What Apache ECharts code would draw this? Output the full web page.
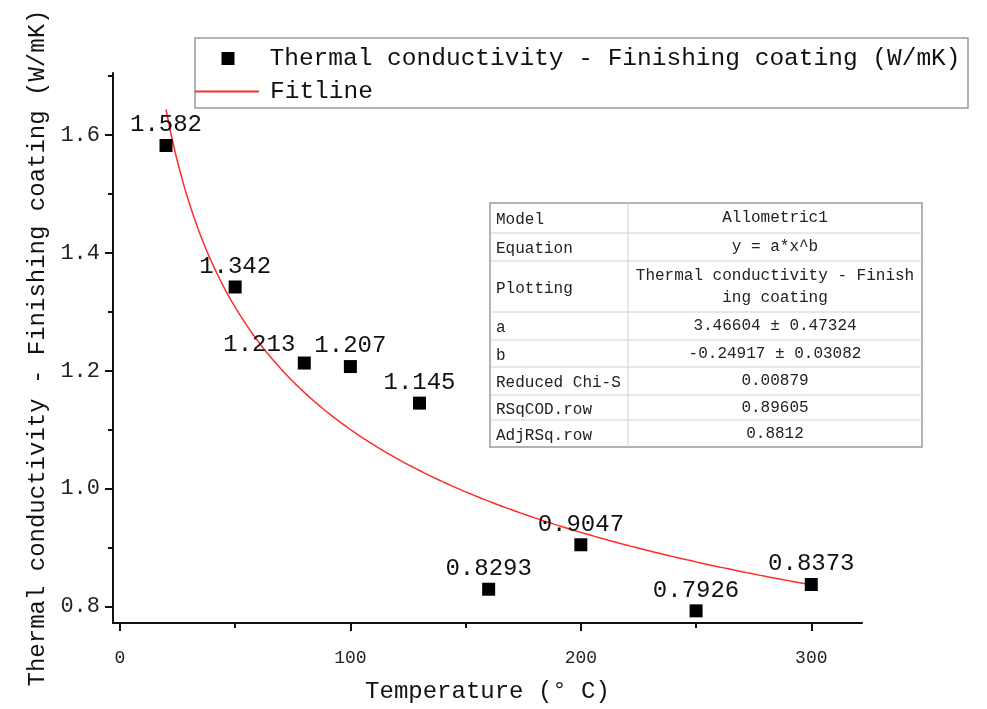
<!DOCTYPE html>
<html>
<head>
<meta charset="utf-8">
<script src="https://cdn.jsdelivr.net/npm/echarts@6/dist/echarts.min.js"></script>
<style>
  html, body { margin: 0; padding: 0; background: #fff; }
  #chart { width: 987px; height: 709px; }
</style>
</head>
<body>
<div id="chart"></div>
<script>
// Measured thermal conductivity of the finishing coating vs temperature
const temperature = [20, 50, 80, 100, 130, 160, 200, 250, 300];
const conductivity = [1.582, 1.342, 1.213, 1.207, 1.145, 0.8293, 0.9047, 0.7926, 0.8373];

// Allometric1 fit parameters (y = a*x^b) as reported in the fit table
const fitA = 3.46604;
const fitB = -0.24917;

// Axis ticks
const xMajorTicks = [0, 100, 200, 300];
const xMinorTicks = [50, 150, 250];
const yMajorTicks = [0.8, 1.0, 1.2, 1.4, 1.6];
const yMinorTicks = [0.9, 1.1, 1.3, 1.5, 1.7];

// Fit report table
const tableNames = ['Model', 'Equation', 'Plotting', 'a', 'b', 'Reduced Chi-S', 'RSqCOD.row', 'AdjRSq.row'];
const tableValues = ['Allometric1', 'y = a*x^b', 'Thermal conductivity - Finish\ning coating',
  '3.46604 \u00b1 0.47324', '-0.24917 \u00b1 0.03082', '0.00879', '0.89605', '0.8812'];

const seriesNames = ['Thermal conductivity - Finishing coating (W/mK)', 'Fitline'];

const FONT = '"Liberation Mono", "DejaVu Sans Mono", monospace';

// Fitted curve over the measured temperature range
const fitPoints = [];
for (let t = temperature[0]; t <= temperature[temperature.length - 1]; t += 2) {
  fitPoints.push([t, fitA * Math.pow(t, fitB)]);
}

// Label nudges for crowded points (index -> pixel offset)
const labelNudge = { 2: [-45, 2] };

const scatterData = temperature.map((t, i) => {
  const item = { value: [t, conductivity[i]] };
  if (labelNudge[i]) item.label = { offset: labelNudge[i] };
  return item;
});

// Legend frame
const graphics = [{
  type: 'rect', shape: { x: 195, y: 38, width: 773, height: 70 },
  style: { fill: '#fff', stroke: '#9a9a9a', lineWidth: 1.5 }, z: 0, silent: true
}];

// Fit report table
const tX0 = 490, tX1 = 628, tX2 = 922;
const rowEdges = [203, 233, 261, 312, 340, 367, 395, 420, 447];
graphics.push({
  type: 'rect', shape: { x: tX0, y: rowEdges[0], width: tX2 - tX0, height: rowEdges[rowEdges.length - 1] - rowEdges[0] },
  style: { fill: '#fff', stroke: '#9a9a9a', lineWidth: 1.5 }, z: 10
});
graphics.push({
  type: 'line', shape: { x1: tX1, y1: rowEdges[0], x2: tX1, y2: rowEdges[rowEdges.length - 1] },
  style: { stroke: '#d0d0d0', lineWidth: 1 }, z: 11
});
for (let r = 1; r < rowEdges.length - 1; r++) {
  graphics.push({
    type: 'line', shape: { x1: tX0, y1: rowEdges[r], x2: tX2, y2: rowEdges[r] },
    style: { stroke: '#d0d0d0', lineWidth: 1 }, z: 11
  });
}
tableNames.forEach((name, r) => {
  const cy = (rowEdges[r] + rowEdges[r + 1]) / 2;
  graphics.push({
    type: 'text', x: tX0 + 6, y: cy + 2, z: 12,
    style: { text: name, font: '16px ' + FONT, fill: '#222', textAlign: 'left', textVerticalAlign: 'middle' }
  });
  graphics.push({
    type: 'text', x: (tX1 + tX2) / 2, y: cy, z: 12,
    style: { text: tableValues[r], font: '16px ' + FONT, fill: '#222', textAlign: 'center', textVerticalAlign: 'middle', lineHeight: 22 }
  });
});

const chart = echarts.init(document.getElementById('chart'), null, { renderer: 'canvas' });

const axisLineStyle = { color: '#111', width: 2 };
const legendText = { fontFamily: FONT, fontSize: 24.5, color: '#111' };

chart.setOption({
  animation: false,
  backgroundColor: '#fff',
  grid: { left: 113, right: 125, top: 73, bottom: 85, containLabel: false },
  legend: [{
    orient: 'vertical',
    left: 221.5,
    top: 46,
    padding: 0,
    itemWidth: 13,
    itemHeight: 13,
    textStyle: Object.assign({ padding: [0, 0, 0, 30] }, legendText),
    data: [{ name: seriesNames[0], icon: 'rect' }]
  }, {
    orient: 'vertical',
    left: 195,
    top: 79,
    padding: 0,
    itemWidth: 64,
    itemHeight: 2,
    textStyle: Object.assign({ padding: [0, 0, 0, 6] }, legendText),
    data: [{ name: seriesNames[1], icon: 'rect' }]
  }],
  xAxis: [{
    type: 'value',
    min: -3,
    max: 322,
    name: 'Temperature (\u00b0 C)',
    nameLocation: 'middle',
    nameGap: 57,
    nameTextStyle: { fontFamily: FONT, fontSize: 24, color: '#111' },
    axisLine: { show: true, onZero: false, lineStyle: axisLineStyle },
    axisTick: { show: true, inside: false, length: 8, lineStyle: axisLineStyle, customValues: xMajorTicks },
    axisLabel: { fontFamily: FONT, fontSize: 18, color: '#222', margin: 26, customValues: xMajorTicks },
    splitLine: { show: false }
  }, {
    type: 'value',
    min: -3,
    max: 322,
    position: 'bottom',
    axisLine: { show: false, onZero: false },
    axisTick: { show: true, inside: false, length: 5, lineStyle: axisLineStyle, customValues: xMinorTicks },
    axisLabel: { show: false },
    splitLine: { show: false }
  }],
  yAxis: [{
    type: 'value',
    min: 0.772,
    max: 1.705,
    name: seriesNames[0],
    nameLocation: 'middle',
    nameGap: 61,
    nameRotate: 90,
    nameTextStyle: { fontFamily: FONT, fontSize: 24, color: '#111' },
    axisLine: { show: true, onZero: false, lineStyle: axisLineStyle },
    axisTick: { show: true, inside: false, length: 8, lineStyle: axisLineStyle, customValues: yMajorTicks },
    axisLabel: {
      fontFamily: FONT, fontSize: 22, color: '#222', margin: 13,
      customValues: yMajorTicks,
      formatter: v => v.toFixed(1)
    },
    splitLine: { show: false }
  }, {
    type: 'value',
    min: 0.772,
    max: 1.705,
    position: 'left',
    axisLine: { show: false, onZero: false },
    axisTick: { show: true, inside: false, length: 5, lineStyle: axisLineStyle, customValues: yMinorTicks },
    axisLabel: { show: false },
    splitLine: { show: false }
  }],
  series: [
    {
      name: seriesNames[0],
      type: 'scatter',
      xAxisIndex: 0,
      yAxisIndex: 0,
      symbol: 'rect',
      symbolSize: 13,
      itemStyle: { color: '#000', opacity: 1 },
      data: scatterData,
      label: {
        show: true,
        position: 'top',
        distance: 2,
        fontFamily: FONT,
        fontSize: 24,
        color: '#111',
        formatter: p => String(p.value[1])
      },
      z: 5
    },
    {
      name: seriesNames[1],
      type: 'line',
      xAxisIndex: 0,
      yAxisIndex: 0,
      data: fitPoints,
      showSymbol: false,
      symbol: 'none',
      smooth: false,
      lineStyle: { color: '#ff2a2a', width: 1.5 },
      itemStyle: { color: '#ff2a2a' },
      z: 4
    }
  ],
  graphic: graphics
});
</script>
</body>
</html>
